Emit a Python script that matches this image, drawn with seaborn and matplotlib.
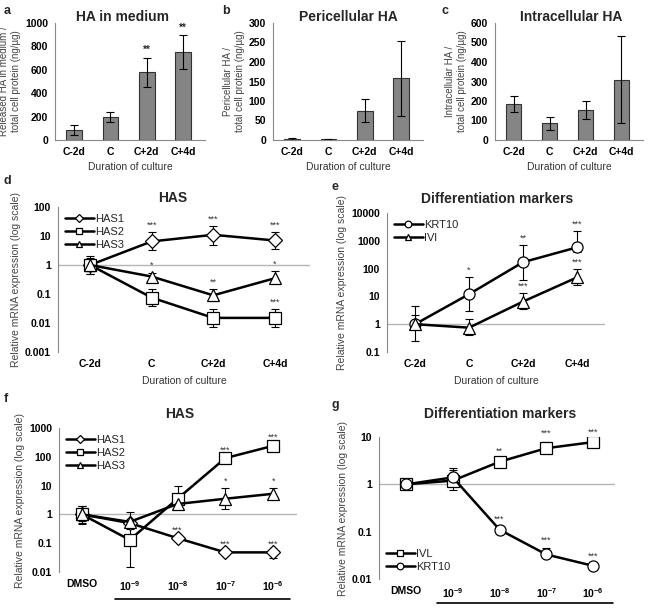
import matplotlib.pyplot as plt
import matplotlib.ticker as mticker
import numpy as np
import pandas as pd
import seaborn as sns

sns.set_theme(style='white')
plt.rcParams['font.family'] = ['Liberation Sans', 'DejaVu Sans']
plt.rcParams['mathtext.default'] = 'regular'

days = ['C-2d', 'C', 'C+2d', 'C+4d']
doses = ['DMSO', '$10^{-9}$', '$10^{-8}$', '$10^{-7}$', '$10^{-6}$']

# a-c: HA amounts (ng/ug)
medium_ha = [85, 195, 580, 755]
medium_err = [45, 45, 125, 145]
medium_stars = ['', '', '**', '**']
peri_ha = [3, 2, 75, 158]
peri_err = [2, 1, 30, 97]
intra_ha = [185, 85, 155, 310]
intra_err = [42, 35, 45, 222]

# d: HAS expression over culture time
d_has1 = [1, 6.5, 11, 7]
d_has1_lo = [0.5, 3.2, 5, 3.5]
d_has1_hi = [2.0, 14, 22, 14]
d_has1_stars = ['', '***', '***', '***']
d_has2 = [1, 0.075, 0.015, 0.015]
d_has2_lo = [0.5, 0.04, 0.007, 0.007]
d_has2_hi = [1.8, 0.15, 0.03, 0.03]
d_has2_stars = ['', '**', '***', '***']
d_has3 = [1, 0.4, 0.09, 0.35]
d_has3_lo = [0.6, 0.3, 0.06, 0.28]
d_has3_hi = [1.6, 0.55, 0.15, 0.6]
d_has3_stars = ['', '*', '**', '*']

# e: differentiation markers over culture time
e_krt10 = [1, 12, 170, 580]
e_krt10_lo = [0.25, 3, 40, 400]
e_krt10_hi = [4.5, 50, 700, 2300]
e_krt10_stars = ['', '*', '**', '***']
e_ivl = [1, 0.75, 6.5, 48]
e_ivl_lo = [0.7, 0.4, 3.5, 25]
e_ivl_hi = [2.2, 1.5, 13, 100]
e_ivl_stars = ['', '', '***', '***']

# f: HAS expression vs dose
f_has1 = [1, 0.5, 0.15, 0.048, 0.048]
f_has1_lo = [0.5, 0.4, 0.13, 0.042, 0.03]
f_has1_hi = [2.0, 0.6, 0.17, 0.055, 0.055]
f_has1_stars = ['', '', '***', '***', '***']
f_has2 = [1, 0.13, 3.5, 90, 240]
f_has2_lo = [0.45, 0.015, 1.5, 80, 200]
f_has2_hi = [2.0, 0.4, 10, 100, 280]
f_has2_stars = ['', '', '', '***', '***']
f_has3 = [1, 0.55, 2.3, 3.5, 5.2]
f_has3_lo = [0.6, 0.3, 1.5, 1.6, 4]
f_has3_hi = [1.6, 1.2, 3.5, 8, 8]
f_has3_stars = ['', '', '', '*', '*']

# g: differentiation markers vs dose
g_ivl = [1, 1.2, 3, 5.8, 7.8]
g_ivl_lo = [0.9, 0.75, 2.7, 4.5, 7]
g_ivl_hi = [1.1, 2.0, 3.3, 8, 8.5]
g_ivl_stars = ['', '', '**', '***', '***']
g_krt10 = [1, 1.4, 0.11, 0.033, 0.019]
g_krt10_lo = [0.9, 1.2, 0.1, 0.028, 0.018]
g_krt10_hi = [1.1, 2.2, 0.12, 0.045, 0.02]
g_krt10_stars = ['', '', '***', '***', '***']

W, H = 656, 609
fig = plt.figure(figsize=(W / 100, H / 100), dpi=100)


def px_axes(x0, y0, x1, y1):
    return fig.add_axes([x0 / W, 1 - y1 / H, (x1 - x0) / W, (y1 - y0) / H])


def px_title(text, px, py):
    fig.text(px / W, 1 - py / H, text, fontsize=10, fontweight='bold',
             ha='center', va='center')


def style_axes(ax):
    for s in ['top', 'right']:
        ax.spines[s].set_visible(False)
    for s in ['left', 'bottom']:
        ax.spines[s].set_color('#888888')
        ax.spines[s].set_linewidth(0.8)
    ax.tick_params(axis='both', labelsize=7.5, colors='#888888', labelcolor='black',
                   length=3, width=0.8, pad=2)
    for t in ax.get_xticklabels() + ax.get_yticklabels():
        t.set_fontweight('bold')


def bar_panel(ax, vals, errs, ymax, step, ylabel, stars=None):
    df = pd.DataFrame({'day': days, 'ha': vals})
    sns.barplot(data=df, x='day', y='ha', color='#858585', edgecolor='#333333',
                linewidth=0.8, width=0.43, saturation=1, ax=ax)
    ax.errorbar(np.arange(len(vals)), vals, yerr=errs, fmt='none', ecolor='black',
                elinewidth=0.8, capsize=3, capthick=0.8)
    if stars:
        for i, s in enumerate(stars):
            if s:
                ax.text(i, vals[i] + errs[i] + ymax * 0.02, s, ha='center', va='bottom',
                        fontsize=7, fontweight='bold')
    ax.set_xlim(-0.52, 3.6)
    ax.set_ylim(0, ymax)
    ax.set_yticks(np.arange(0, ymax + 1, step))
    ax.set_xticks(np.arange(-0.5, 4, 1), minor=True)
    ax.tick_params(axis='x', which='major', length=0)
    ax.tick_params(axis='x', which='minor', length=3, color='#888888')
    ax.set_xlabel('Duration of culture', fontsize=7.5, color='#333333', labelpad=4)
    ax.set_ylabel(ylabel, fontsize=7, color='#444444', labelpad=3)
    style_axes(ax)


def line_panel(ax, labels, series, xlim, ylim, ylabel, legend_loc):
    x = np.arange(len(labels))
    ax.set_yscale('log')
    ax.axhline(1, color='#b5b5b5', lw=1, zorder=0)
    for name, vals, lo, hi, stars, marker, ms in series:
        vals = np.array(vals)
        yerr = [vals - np.array(lo), np.array(hi) - vals]
        ax.errorbar(x, vals, yerr=yerr, fmt='none', ecolor='black', elinewidth=0.8,
                    capsize=3, capthick=0.8, zorder=2)
        sns.lineplot(x=x, y=vals, ax=ax, color='black', lw=1.8, marker=marker, ms=ms,
                     mfc='white', mec='black', mew=0.9, label=name, sort=False, zorder=3)
        for i, s in enumerate(stars):
            if s:
                ax.text(i, hi[i] * 1.2, s, ha='center', va='bottom', fontsize=6.5,
                        color='#333333')
    ax.set_xlim(*xlim)
    ax.set_ylim(*ylim)
    decades = 10.0 ** np.arange(np.log10(ylim[0]), np.log10(ylim[1]) + 1)
    ax.set_yticks(decades, ['%g' % d for d in decades])
    ax.yaxis.set_minor_locator(mticker.NullLocator())
    ax.set_xticks(x, labels)
    ax.tick_params(axis='x', length=0)
    ax.set_ylabel(ylabel, fontsize=7.5, color='#444444', labelpad=3)
    style_axes(ax)
    ax.spines['bottom'].set_visible(False)
    ax.legend(loc=legend_loc, frameon=False, fontsize=8, handlelength=2.6,
              handletextpad=0.1, labelspacing=0.3, borderaxespad=0.2, markerscale=0.6)


# a-c
ax_a = px_axes(55, 23, 205, 140)
bar_panel(ax_a, medium_ha, medium_err, 1000, 200,
          'Released HA in medium /\ntotal cell protein (ng/µg)', medium_stars)
px_title('HA in medium', 123, 17)
ax_b = px_axes(273, 23, 423, 140)
bar_panel(ax_b, peri_ha, peri_err, 300, 50,
          'Pericellular HA /\ntotal cell protein (ng/µg)')
px_title('Pericellular HA', 348, 17)
ax_c = px_axes(495, 23, 643, 140)
bar_panel(ax_c, intra_ha, intra_err, 600, 100,
          'Intracellular HA /\ntotal cell protein (ng/µg)')
px_title('Intracellular HA', 571, 17)

ylab = 'Relative mRNA expression (log scale)'

# d
ax_d = px_axes(58, 207, 310, 352)
line_panel(ax_d, days, [
    ('HAS1', d_has1, d_has1_lo, d_has1_hi, d_has1_stars, 'D', 7),
    ('HAS2', d_has2, d_has2_lo, d_has2_hi, d_has2_stars, 's', 8),
    ('HAS3', d_has3, d_has3_lo, d_has3_hi, d_has3_stars, '^', 8),
], (-0.52, 3.57), (0.001, 100), ylab, 'upper left')
ax_d.set_xlabel('Duration of culture', fontsize=7.5, color='#333333', labelpad=5)
px_title('HAS', 173, 198)

# e
ax_e = px_axes(387, 213, 605, 352)
line_panel(ax_e, days, [
    ('KRT10', e_krt10, e_krt10_lo, e_krt10_hi, e_krt10_stars, 'o', 8),
    ('IVl', e_ivl, e_ivl_lo, e_ivl_hi, e_ivl_stars, '^', 8),
], (-0.52, 3.52), (0.1, 10000), ylab, 'upper left')
ax_e.set_xlabel('Duration of culture', fontsize=7.5, color='#333333', labelpad=5)
px_title('Differentiation markers', 497, 199)

# f
ax_f = px_axes(59, 428, 297, 572)
line_panel(ax_f, doses, [
    ('HAS1', f_has1, f_has1_lo, f_has1_hi, f_has1_stars, 'D', 7),
    ('HAS2', f_has2, f_has2_lo, f_has2_hi, f_has2_stars, 's', 8),
    ('HAS3', f_has3, f_has3_lo, f_has3_hi, f_has3_stars, '^', 8),
], (-0.48, 4.5), (0.01, 1000), ylab, 'upper left')
ax_f.plot([0.69, 4.36], [-0.19, -0.19], color='black', lw=1.2, clip_on=False,
          transform=ax_f.get_xaxis_transform())
px_title('HAS', 180, 414)

# g
ax_g = px_axes(379, 437, 615, 579)
line_panel(ax_g, doses, [
    ('IVL', g_ivl, g_ivl_lo, g_ivl_hi, g_ivl_stars, 's', 8),
    ('KRT10', g_krt10, g_krt10_lo, g_krt10_hi, g_krt10_stars, 'o', 8),
], (-0.58, 4.47), (0.01, 10), ylab, 'lower left')
ax_g.plot([0.66, 4.43], [-0.17, -0.17], color='black', lw=1.2, clip_on=False,
          transform=ax_g.get_xaxis_transform())
px_title('Differentiation markers', 500, 414)

# panel letters
for letter, (px, py) in zip('abcdefg', [(4, 11), (222, 11), (441, 11), (4, 181),
                                        (332, 187), (4, 399), (332, 405)]):
    fig.text(px / W, 1 - py / H, letter, fontsize=9, fontweight='bold', va='center')

fig.savefig('out.png', dpi=100)
